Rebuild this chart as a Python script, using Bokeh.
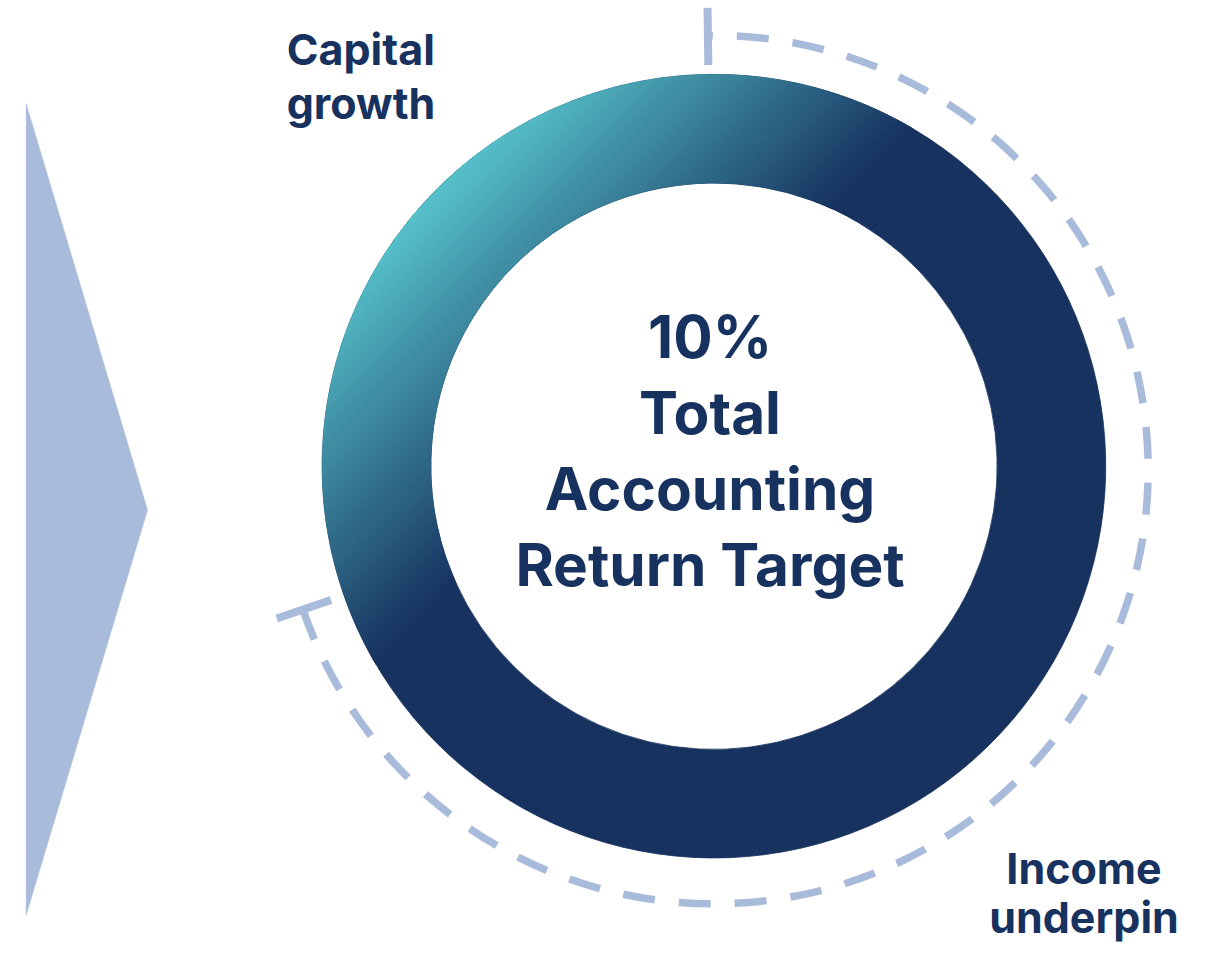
import numpy as np
from bokeh.plotting import figure
from bokeh.models import ColumnDataSource
from bokeh.core.properties import value
from bokeh.embed import file_html
from bokeh.resources import INLINE

# ---------------- data ----------------
segment_labels = ["Capital growth", "Income underpin"]
segment_values = [3, 7]          # % of the 10% total return target
centre_lines = ["10%", "Total", "Accounting", "Return Target"]
label_capital = ["Capital", "growth"]
label_income = ["Income", "underpin"]

# ---------------- style / layout ----------------
W, H = 1198, 954                 # canvas in pixels
XR, YR = 1214, 970               # drawing units
KY = (W / XR) / (H / YR)         # keeps round shapes round in y
NAVY = "#17325f"
TEXT = "#17325f"
PALE = "#a9bbdb"
LIGHT_RGB = np.array([88, 196, 204])
DARK_RGB = np.array([23, 50, 95])
FONT = "Inter"

cx, cy = 723.0, 496.5            # ring centre
R_OUT, R_IN = 397.0, 287.0
dcx, dcy, R_DASH = 723.0, 493.0, 440.0   # dashed bracket
START_DEG = 90.8

p = figure(width=W, height=H, x_range=(0, XR), y_range=(0, YR),
           output_backend="svg", toolbar_location=None, min_border=0)
p.axis.visible = False
p.grid.visible = False
p.outline_line_color = None
p.background_fill_color = "white"
p.border_fill_color = "white"

# left arrow decoration
p.patch(x=[26, 149, 26], y=[865, 452, 40], fill_color=PALE, line_color=PALE, line_width=0.5)

# ---------------- ring segments from data ----------------
total = float(sum(segment_values))
starts, ends = [], []
a = np.deg2rad(START_DEG)
for v in segment_values:
    span = 2 * np.pi * v / total
    starts.append(a)
    ends.append(a + span)
    a += span
seg_src = ColumnDataSource(dict(x=[cx] * len(segment_values), y=[cy] * len(segment_values),
                                start=starts, end=ends, label=segment_labels))
p.annular_wedge(x="x", y="y", inner_radius=R_IN, outer_radius=R_OUT,
                start_angle="start", end_angle="end", direction="anticlock",
                fill_color=NAVY, line_color=NAVY, line_width=0.8, line_join="round",
                source=seg_src)

# diagonal gradient sheen over the ring (style only)
t_light, t_dark = -R_OUT, -100.0
edges = np.concatenate([np.linspace(-R_OUT, -R_IN, 60, endpoint=False),
                        np.linspace(-R_IN, t_dark, 101)])
e1 = np.array([1.0, -1.0]) / np.sqrt(2)
e2 = np.array([1.0, 1.0]) / np.sqrt(2)
gx, gy, gc = [], [], []


def add_poly(U, V, col):
    gx.append(list(cx + U * e1[0] + V * e2[0]))
    gy.append(list(cy + KY * (U * e1[1] + V * e2[1])))
    gc.append(col)


for i in range(len(edges) - 1):
    u0, u1 = edges[i], edges[i + 1]
    us = np.linspace(u0, u1, 6)
    vo = np.sqrt(np.clip(R_OUT ** 2 - us ** 2, 0, None))
    vi = np.sqrt(np.clip(R_IN ** 2 - us ** 2, 0, None))
    frac = ((u0 + u1) / 2 - t_light) / (t_dark - t_light)
    rgb = LIGHT_RGB * (1 - frac) + DARK_RGB * frac
    col = "#%02x%02x%02x" % tuple(int(round(c)) for c in rgb)
    if u1 <= -R_IN + 1e-9:
        add_poly(np.concatenate([us, us[::-1]]), np.concatenate([vo, -vo[::-1]]), col)
    else:
        for sgn in (1, -1):
            add_poly(np.concatenate([us, us[::-1]]), sgn * np.concatenate([vo, vi[::-1]]), col)
p.patches(xs=gx, ys=gy, fill_color=gc, line_color=gc, line_width=0.8, line_join="round")

# ---------------- dashed bracket for the income segment ----------------
inc_start, inc_end = starts[1], ends[1]
p.arc(x=[dcx], y=[dcy], radius=R_DASH, start_angle=inc_start, end_angle=inc_end,
      direction="anticlock", line_color=PALE, line_width=7.5, line_dash="32 24")
tick_angles = [inc_start, inc_end]
r0, r1 = R_DASH - 30, R_DASH + 28
p.segment(x0=[dcx + r0 * np.cos(t) for t in tick_angles],
          y0=[dcy + KY * r0 * np.sin(t) for t in tick_angles],
          x1=[dcx + r1 * np.cos(t) for t in tick_angles],
          y1=[dcy + KY * r1 * np.sin(t) for t in tick_angles],
          line_color=PALE, line_width=8)

# ---------------- texts ----------------
p.text(x=[719] * len(centre_lines), y=[628 - 77 * i for i in range(len(centre_lines))],
       text=centre_lines, text_font=value(FONT), text_font_style="bold",
       text_font_size="58.5px", text_align="center", text_baseline="alphabetic",
       text_color=TEXT)
p.text(x=[290] * 2, y=[921, 866], text=label_capital, text_font=value(FONT),
       text_font_style="bold", text_font_size="43px", text_align="left",
       text_baseline="alphabetic", text_color=TEXT)
p.text(x=[1098] * 2, y=[88, 38], text=label_income, text_font=value(FONT),
       text_font_style="bold", text_font_size="43px", text_align="center",
       text_baseline="alphabetic", text_color=TEXT)

open("out.html", "w").write(file_html(p, INLINE))
